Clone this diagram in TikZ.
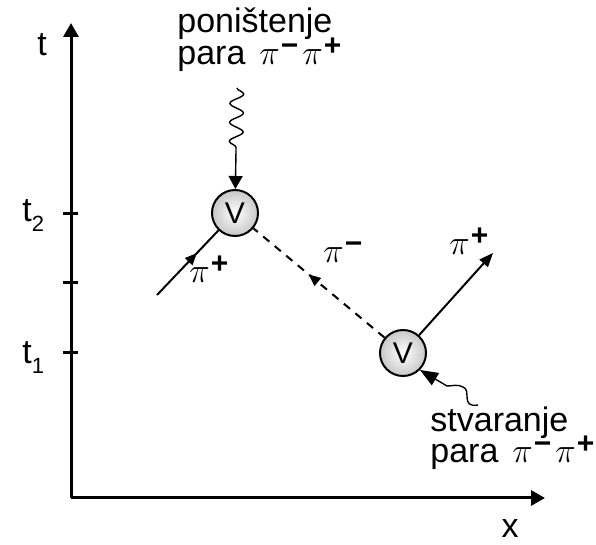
\documentclass[tikz,border=0pt]{standalone}
\usepackage{fontspec}
\setmainfont{Liberation Sans}
\usetikzlibrary{arrows.meta, decorations.pathmorphing, decorations.markings}
\definecolor{verteksSiva}{RGB}{200,200,200}

% pion sa nabojem u eksponentu
\newcommand{\piSup}[1]{{\fontsize{17}{17}\selectfont$\pi$}\kern0.5pt\raisebox{4.5pt}{\fontsize{15}{15}\selectfont\bfseries #1}}
\newcommand{\tSub}[1]{t\raisebox{-0.28em}{\fontsize{11}{11}\selectfont #1}}

\tikzset{
  osa/.style={line width=1.5pt, -{Triangle[length=7pt,width=7.5pt]}},
  crtica/.style={line width=1.5pt},
  verteks/.style={circle, draw, line width=1pt, minimum size=23pt, inner sep=0pt,
    inner color=white, outer color=verteksSiva, font=\fontsize{15}{15}\selectfont},
  cestica/.style={line width=1pt},
  oznaka/.style={anchor=base west, inner sep=0pt},
  srednjaStrelica/.style={postaction={decorate}, decoration={markings,
    mark=at position #1 with {\arrow{Triangle[length=6pt,width=5pt]}}}},
  foton/.style={line width=0.7pt, decorate, decoration={snake, amplitude=3.4pt,
    segment length=9.5pt, post length=17pt}},
}

\begin{document}
\begin{tikzpicture}[x=0.5pt, y=-0.5pt, font=\fontsize{17}{20}\selectfont]
  \useasboundingbox (0,0) rectangle (596,545);

  % 1. OSE
  \coordinate (O) at (71,498);
  \coordinate (tKraj) at (71,23);
  \coordinate (xKraj) at (545,498);
  \draw[osa] (O) -- (tKraj);
  \draw[osa] (O) -- (xKraj);
  \foreach \y/\ime in {214/tDva, 283/tSred, 353/tJedan}
    \draw[crtica] (63,\y) -- (78,\y) coordinate (\ime);

  % Oznake osa
  \node[anchor=base, inner sep=0pt] (tOzn) at (42,56) {t};
  \node[anchor=base, inner sep=0pt] (xOzn) at (510,538) {x};
  \node[oznaka] (t2Ozn) at (22,222) {\tSub{2}};
  \node[oznaka] (t1Ozn) at (22,364) {\tSub{1}};

  % 2. VERTEKSI
  \node[verteks] (vA) at (235,213) {V};
  \node[verteks] (vB) at (403,353) {V};

  % 3. CESTICE
  \coordinate (ulazA) at (157,295);
  \coordinate (izlazB) at (493,253);
  \draw[cestica, srednjaStrelica=0.65] (ulazA) -- (vA);
  \draw[line width=1pt, dash pattern=on 4pt off 3.5pt, srednjaStrelica=0.58] (vB) -- (vA);
  \draw[cestica, -{Triangle[length=7pt,width=5.5pt]}] (vB) -- (izlazB);

  \node[oznaka] (piUlaz) at (189,283) {\piSup{+}};
  \node[oznaka] (piMinus) at (323,263) {\piSup{−}};
  \node[oznaka] (piIzlaz) at (449,255) {\piSup{+}};

  % 4. PONISTENJE (gore)
  \coordinate (talasA) at (237,88);
  \draw[foton, -{Triangle[length=6.5pt,width=7pt]}] (talasA) -- (vA);
  \node[oznaka] (ponRed1) at (177,33) {poništenje};
  \node[oznaka] (ponRed2) at (177,65) {para\kern7pt\piSup{−}\kern2pt\piSup{+}};

  % 5. STVARANJE (dole)
  \coordinate (talasB) at (478,405);
  \draw[line width=0.7pt, -{Triangle[length=9pt,width=7pt]}]
    (talasB) .. controls (460,408) and (472,390) .. (463,387)
    .. controls (458,384) and (452,386) .. (447,386) -- (vB.-45);
  \node[oznaka] (stvRed1) at (430,432) {stvaranje};
  \node[oznaka] (stvRed2) at (430,463) {para\kern7pt\piSup{−}\kern2pt\piSup{+}};
\end{tikzpicture}
\end{document}
